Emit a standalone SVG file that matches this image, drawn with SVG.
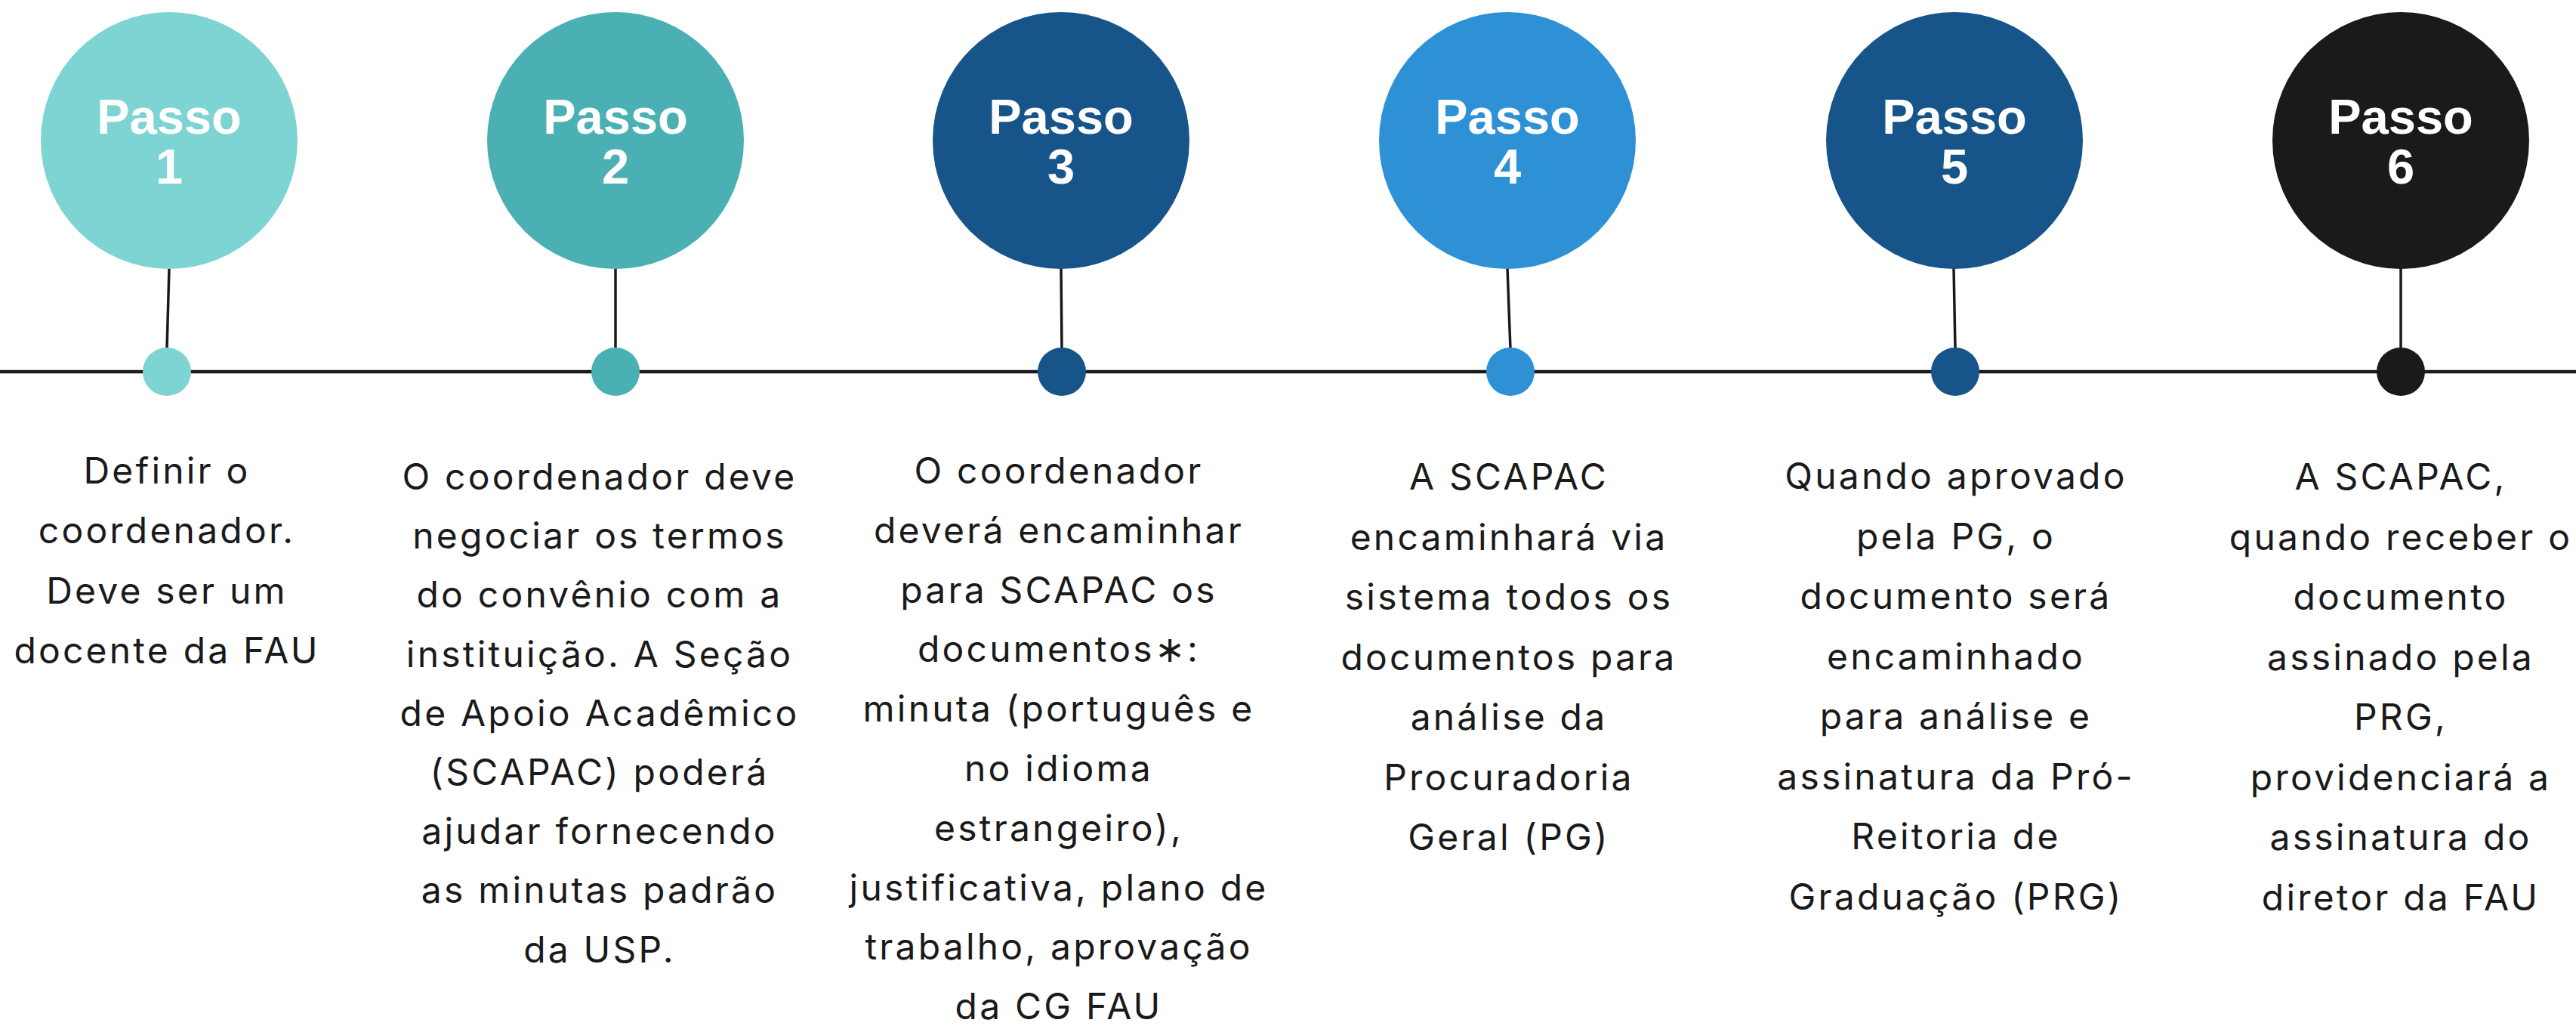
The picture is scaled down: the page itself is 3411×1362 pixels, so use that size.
<svg xmlns="http://www.w3.org/2000/svg" width="3411" height="1362" viewBox="0 0 3411 1362">
<style>
.big{fill:#ffffff;font-family:"Liberation Sans",Arial,sans-serif;font-weight:bold;font-size:65px;text-anchor:middle}
.body{fill:#1a1a1a;font-family:Inter,"Noto Sans",sans-serif;font-size:48px;letter-spacing:3.2px;text-anchor:middle}
.conn{stroke:#1a1a1a;stroke-width:3.5;fill:none}
</style>
<rect width="3411" height="1362" fill="#ffffff"/>
<g id="connectors">
<line class="conn" x1="0" y1="492" x2="3411" y2="492" style="stroke-width:4.5"/>
<line class="conn" x1="224" y1="355" x2="221" y2="462"/>
<line class="conn" x1="815" y1="355" x2="815" y2="462"/>
<line class="conn" x1="1405" y1="355" x2="1406" y2="462"/>
<line class="conn" x1="1996" y1="355" x2="2000" y2="462"/>
<line class="conn" x1="2587" y1="355" x2="2589" y2="462"/>
<line class="conn" x1="3179" y1="355" x2="3179" y2="462"/>
</g>
<g id="step1">
<circle cx="224" cy="186" r="170" fill="#7ED4D3"/>
<circle cx="221" cy="492" r="32" fill="#7ED4D3"/>
<text class="big" x="224" y="177">Passo</text>
<text class="big" x="224" y="243">1</text>
<text class="body" x="221" y="640">Definir o<tspan x="221" dy="79.3">coordenador.</tspan><tspan x="221" dy="79.3">Deve ser um</tspan><tspan x="221" dy="79.3">docente da FAU</tspan></text>
</g>
<g id="step2">
<circle cx="815" cy="186" r="170" fill="#4BB0B3"/>
<circle cx="815" cy="492" r="32" fill="#4BB0B3"/>
<text class="big" x="815" y="177">Passo</text>
<text class="big" x="815" y="243">2</text>
<text class="body" x="794" y="648">O coordenador deve<tspan x="794" dy="78.2">negociar os termos</tspan><tspan x="794" dy="78.2">do convênio com a</tspan><tspan x="794" dy="78.2">instituição. A Seção</tspan><tspan x="794" dy="78.2">de Apoio Acadêmico</tspan><tspan x="794" dy="78.2">(SCAPAC) poderá</tspan><tspan x="794" dy="78.2">ajudar fornecendo</tspan><tspan x="794" dy="78.2">as minutas padrão</tspan><tspan x="794" dy="78.2">da USP.</tspan></text>
</g>
<g id="step3">
<circle cx="1405" cy="186" r="170" fill="#16548A"/>
<circle cx="1406" cy="492" r="32" fill="#16548A"/>
<text class="big" x="1405" y="177">Passo</text>
<text class="big" x="1405" y="243">3</text>
<text class="body" x="1402" y="640">O coordenador<tspan x="1402" dy="78.8">deverá encaminhar</tspan><tspan x="1402" dy="78.8">para SCAPAC os</tspan><tspan x="1402" dy="78.8">documentos∗:</tspan><tspan x="1402" dy="78.8">minuta (português e</tspan><tspan x="1402" dy="78.8">no idioma</tspan><tspan x="1402" dy="78.8">estrangeiro),</tspan><tspan x="1402" dy="78.8">justificativa, plano de</tspan><tspan x="1402" dy="78.8">trabalho, aprovação</tspan><tspan x="1402" dy="78.8">da CG FAU</tspan></text>
</g>
<g id="step4">
<circle cx="1996" cy="186" r="170" fill="#2E91D5"/>
<circle cx="2000" cy="492" r="32" fill="#2E91D5"/>
<text class="big" x="1996" y="177">Passo</text>
<text class="big" x="1996" y="243">4</text>
<text class="body" x="1998" y="648">A SCAPAC<tspan x="1998" dy="79.5">encaminhará via</tspan><tspan x="1998" dy="79.5">sistema todos os</tspan><tspan x="1998" dy="79.5">documentos para</tspan><tspan x="1998" dy="79.5">análise da</tspan><tspan x="1998" dy="79.5">Procuradoria</tspan><tspan x="1998" dy="79.5">Geral (PG)</tspan></text>
</g>
<g id="step5">
<circle cx="2588" cy="186" r="170" fill="#16548A"/>
<circle cx="2589" cy="492" r="32" fill="#16548A"/>
<text class="big" x="2588" y="177">Passo</text>
<text class="big" x="2588" y="243">5</text>
<text class="body" x="2590" y="647">Quando aprovado<tspan x="2590" dy="79.5">pela PG, o</tspan><tspan x="2590" dy="79.5">documento será</tspan><tspan x="2590" dy="79.5">encaminhado</tspan><tspan x="2590" dy="79.5">para análise e</tspan><tspan x="2590" dy="79.5">assinatura da Pró-</tspan><tspan x="2590" dy="79.5">Reitoria de</tspan><tspan x="2590" dy="79.5">Graduação (PRG)</tspan></text>
</g>
<g id="step6">
<circle cx="3179" cy="186" r="170" fill="#1A1A1A"/>
<circle cx="3179" cy="492" r="32" fill="#1A1A1A"/>
<text class="big" x="3179" y="177">Passo</text>
<text class="big" x="3179" y="243">6</text>
<text class="body" x="3179" y="648">A SCAPAC,<tspan x="3179" dy="79.5">quando receber o</tspan><tspan x="3179" dy="79.5">documento</tspan><tspan x="3179" dy="79.5">assinado pela</tspan><tspan x="3179" dy="79.5">PRG,</tspan><tspan x="3179" dy="79.5">providenciará a</tspan><tspan x="3179" dy="79.5">assinatura do</tspan><tspan x="3179" dy="79.5">diretor da FAU</tspan></text>
</g>
</svg>
